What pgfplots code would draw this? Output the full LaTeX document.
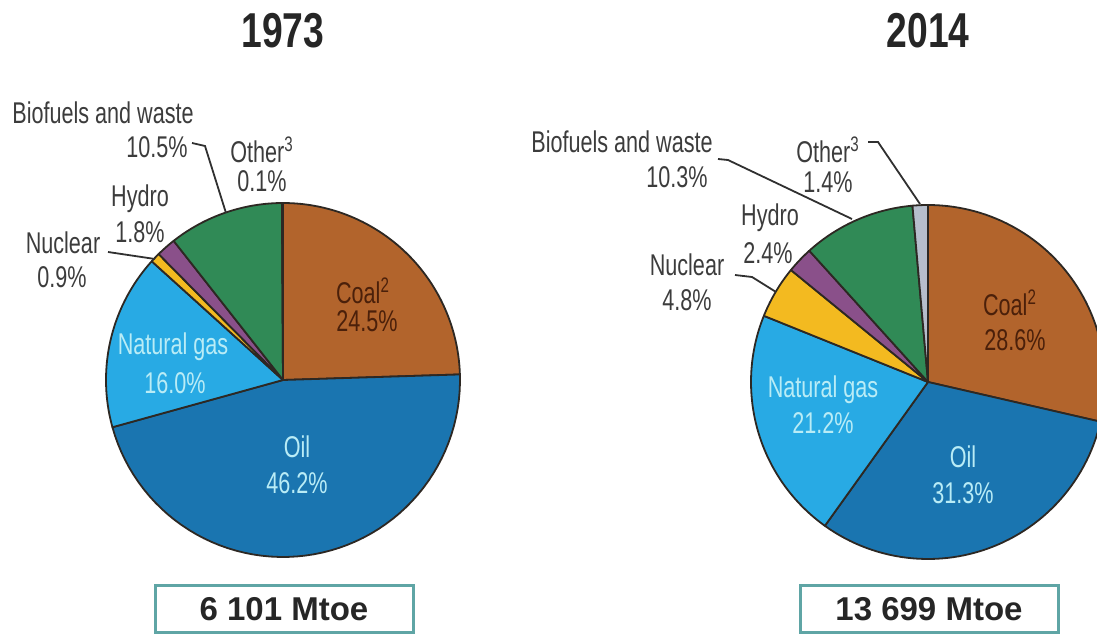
\documentclass[border=0pt]{standalone}
\usepackage{pgfplots}
\pgfplotsset{compat=1.18}
\usepackage{fontspec}
\setmainfont{Liberation Sans}
\newfontfamily\labfont[FakeStretch=0.72]{Liberation Sans}
\newfontfamily\titfont[FakeStretch=0.76]{Liberation Sans}
\definecolor{coal}{RGB}{178,100,44}
\definecolor{oil}{RGB}{26,117,176}
\definecolor{gas}{RGB}{40,170,228}
\definecolor{nuclear}{RGB}{243,186,32}
\definecolor{hydro}{RGB}{138,80,138}
\definecolor{bio}{RGB}{48,138,86}
\definecolor{other}{RGB}{182,190,204}
\definecolor{edge}{RGB}{45,40,35}
\definecolor{labgray}{RGB}{60,60,60}
\definecolor{coaltext}{RGB}{75,32,10}
\definecolor{lighttext}{RGB}{185,236,246}
\definecolor{boxc}{RGB}{95,165,165}
\newcommand\pie[3]{%
  \gdef\cum{0}%
  \foreach \v/\c in {#3}{%
    \pgfmathsetmacro\sa{3.6*\cum-90}%
    \pgfmathsetmacro\sb{3.6*(\cum+\v)-90}%
    \edef\tmp{\noexpand\addplot[draw=edge, line width=0.9pt, line join=round, fill=\c, domain=\sa:\sb, samples=60] ({#1+177*cos(x)},{#2+177*sin(x)}) -- (axis cs:#1,#2) -- cycle;}%
    \tmp
    \pgfmathsetmacro\nc{\cum+\v}\xdef\cum{\nc}%
  }%
}
\begin{document}
\begin{tikzpicture}
\begin{axis}[
  width=548.5pt, height=318pt, scale only axis,
  xmin=0, xmax=1097, ymin=0, ymax=636, y dir=reverse,
  hide axis, clip=true,
]
% 1973
\pie{283}{380}{24.5/coal, 46.2/oil, 16.0/gas, 0.9/nuclear, 1.8/hydro, 10.5/bio, 0.1/other}
% 2014
\pie{928}{382}{28.6/coal, 31.3/oil, 21.2/gas, 4.8/nuclear, 2.4/hydro, 10.3/bio, 1.4/other}

% titles
\node[font=\titfont\bfseries\fontsize{24.5}{26}\selectfont, text=black!85] at (axis cs:283,31) {1973};
\node[font=\titfont\bfseries\fontsize{24.5}{26}\selectfont, text=black!85] at (axis cs:928,31) {2014};

% boxes
\draw[boxc, line width=1.5pt, fill=white] (axis cs:155,585) rectangle (axis cs:413,632);
\draw[boxc, line width=1.5pt, fill=white] (axis cs:800,585) rectangle (axis cs:1058,632);
\node[font=\bfseries\fontsize{16.5}{18}\selectfont, text=black!85] at (axis cs:284,609) {6 101 Mtoe};
\node[font=\bfseries\fontsize{16.5}{18}\selectfont, text=black!85] at (axis cs:929,609) {13 699 Mtoe};

% labels 1973
\begin{scope}[every node/.style={font=\labfont\fontsize{15}{17}\selectfont, text=labgray, inner sep=0pt}]
\node at (axis cs:103,113) {Biofuels and waste};
\node at (axis cs:157,147) {10.5\%};
\node at (axis cs:262,150) {Other\textsuperscript{3}};
\node at (axis cs:262,181) {0.1\%};
\node at (axis cs:140,199) {Hydro};
\node at (axis cs:140,232) {1.8\%};
\node at (axis cs:63,243) {Nuclear};
\node at (axis cs:62,277) {0.9\%};
\node[text=coaltext] at (axis cs:363,291) {Coal\textsuperscript{2}};
\node[text=coaltext] at (axis cs:367,321) {24.5\%};
\node[text=lighttext] at (axis cs:173,347) {Natural gas};
\node[text=lighttext] at (axis cs:175,383) {16.0\%};
\node[text=lighttext] at (axis cs:297,447) {Oil};
\node[text=lighttext] at (axis cs:297,483) {46.2\%};
% labels 2014
\node at (axis cs:622,142) {Biofuels and waste};
\node at (axis cs:677,177) {10.3\%};
\node at (axis cs:828,150) {Other\textsuperscript{3}};
\node at (axis cs:828,182) {1.4\%};
\node at (axis cs:770,218) {Hydro};
\node at (axis cs:768,253) {2.4\%};
\node at (axis cs:687,265) {Nuclear};
\node at (axis cs:687,300) {4.8\%};
\node[text=coaltext] at (axis cs:1010,303) {Coal\textsuperscript{2}};
\node[text=coaltext] at (axis cs:1015,340) {28.6\%};
\node[text=lighttext] at (axis cs:823,390) {Natural gas};
\node[text=lighttext] at (axis cs:823,423) {21.2\%};
\node[text=lighttext] at (axis cs:963,457) {Oil};
\node[text=lighttext] at (axis cs:963,493) {31.3\%};
\end{scope}

% leader lines
\draw[labgray!80!black, line width=0.9pt] (axis cs:192,143) -- (axis cs:205,146) -- (axis cs:226,213);
\draw[labgray!80!black, line width=0.9pt] (axis cs:108,252) -- (axis cs:155,259);
\draw[labgray!80!black, line width=0.9pt] (axis cs:718,159) -- (axis cs:728,160) -- (axis cs:852,219);
\draw[labgray!80!black, line width=0.9pt] (axis cs:868,142) -- (axis cs:878,142) -- (axis cs:920,204);
\draw[labgray!80!black, line width=0.9pt] (axis cs:735,275) -- (axis cs:752,277) -- (axis cs:776,292);
\end{axis}
\pgfresetboundingbox
\path (current axis.south west) rectangle (current axis.north east);
\end{tikzpicture}
\end{document}
